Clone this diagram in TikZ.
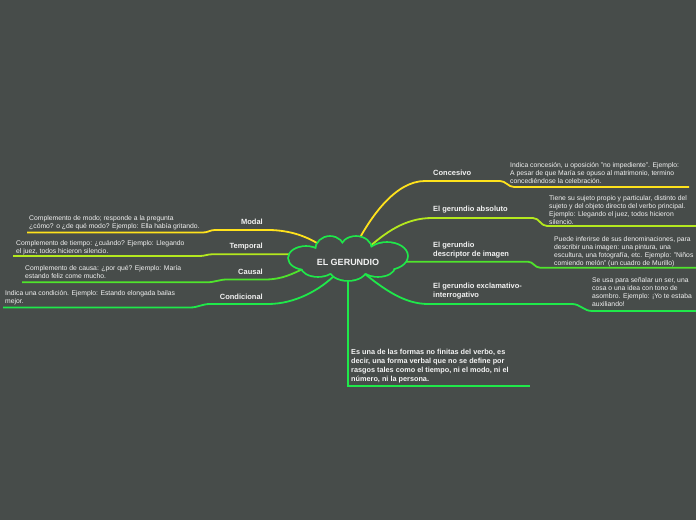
\documentclass[tikz,border=0pt]{standalone}
\usepackage{fontspec}
\setmainfont{Liberation Sans}

\definecolor{bgcol}{HTML}{474C4A}
\definecolor{cyel}{HTML}{FFE21C}
\definecolor{clime}{HTML}{B4E81E}
\definecolor{cgrn}{HTML}{4FE42C}
\definecolor{cbri}{HTML}{1FE84A}
\definecolor{txtcol}{HTML}{F2F2F2}

\pgfdeclarelayer{back}
\pgfdeclarelayer{puffs}
\pgfsetlayers{back,puffs,main}

\begin{document}
\begin{tikzpicture}[x=1pt,y=1pt,
    branch/.style={line width=1.8pt},
    lbl/.style={inner sep=0,text=txtcol,align=left,
        font=\fontsize{7.5}{9}\selectfont\bfseries},
    desc/.style={inner sep=0,anchor=north west,text=txtcol,align=left,
        font=\fontsize{6.8}{8}\selectfont}]

\useasboundingbox (0,0) rectangle (696,520);

% Central idea
\node[minimum width=100pt,minimum height=30pt,inner sep=0,text=txtcol,
    font=\fontsize{9}{10}\selectfont\bfseries]
    (root) at (348,258) {EL GERUNDIO};

% Cloud outline: green ellipses, then filled over
\def\puffs{306/262/17/11, 330/270/14/13, 356/271/15/12, 387/264/20/13,
    378/253/16/9, 348/251/18/11, 318/253/16/9, 348/260/50/14}
\begin{pgfonlayer}{puffs}
\foreach \cx/\cy/\rx/\ry in \puffs
    \draw[cbri,line width=3.6pt] (\cx,\cy) ellipse[x radius=\rx,y radius=\ry];
\foreach \cx/\cy/\rx/\ry in \puffs
    \fill[bgcol] (\cx,\cy) ellipse[x radius=\rx,y radius=\ry];
\end{pgfonlayer}

% Left labels
\node[lbl,anchor=east] (modal) at (263,298) {Modal};
\node[lbl,anchor=east] (temporal) at (263,273) {Temporal};
\node[lbl,anchor=east] (causal) at (263,248) {Causal};
\node[lbl,anchor=east] (condicional) at (263,223) {Condicional};

% Left descriptions
\node[desc] (modal-d) at (29,305)
    {Complemento de modo; responde a la pregunta\\
     ¿cómo? o ¿de qué modo? Ejemplo: Ella había gritando.};
\node[desc] (temporal-d) at (16,280)
    {Complemento de tiempo: ¿cuándo? Ejemplo: Llegando\\
     el juez, todos hicieron silencio.};
\node[desc] (causal-d) at (25,255)
    {Complemento de causa: ¿por qué? Ejemplo: María\\
     estando feliz come mucho.};
\node[desc] (condicional-d) at (5,230)
    {Indica una condición. Ejemplo: Estando elongada bailas\\
     mejor.};

% Right labels
\node[lbl,anchor=west] (concesivo) at (433,347) {Concesivo};
\node[lbl,anchor=west] (absoluto) at (433,310) {El gerundio absoluto};
\node[lbl,anchor=west] (imagen) at (433,269.5)
    {El gerundio\\descriptor de imagen};
\node[lbl,anchor=west] (exclamativo) at (433,228.5)
    {El gerundio exclamativo-\\interrogativo};

% Right descriptions
\node[desc] (concesivo-d) at (510,358)
    {Indica concesión, u oposición "no impediente". Ejemplo:\\
     A pesar de que María se opuso al matrimonio, termino\\
     concediéndose la celebración.};
\node[desc] (absoluto-d) at (549,325)
    {Tiene su sujeto propio y particular, distinto del\\
     sujeto y del objeto directo del verbo principal.\\
     Ejemplo: Llegando el juez, todos hicieron\\
     silencio.};
\node[desc] (imagen-d) at (554,284)
    {Puede inferirse de sus denominaciones, para\\
     describir una imagen: una pintura, una\\
     escultura, una fotografía, etc. Ejemplo: "Niños\\
     comiendo melón" (un cuadro de Murillo)};
\node[desc] (exclamativo-d) at (592,243)
    {Se usa para señalar un ser, una\\
     cosa o una idea con tono de\\
     asombro. Ejemplo: ¡Yo te estaba\\
     auxiliando!};

% Definition
\node[desc,font=\fontsize{7.3}{9}\selectfont\bfseries] (def) at (351,171)
    {Es una de las formas no finitas del verbo, es\\
     decir, una forma verbal que no se define por\\
     rasgos tales como el tiempo, ni el modo, ni el\\
     número, ni la persona.};

% Branch ends
\coordinate (modal-e) at (27,287.5);
\coordinate (temporal-e) at (13,264);
\coordinate (causal-e) at (22,237.7);
\coordinate (condicional-e) at (3,212.5);
\coordinate (concesivo-e) at (689,333);
\coordinate (absoluto-e) at (696,294);
\coordinate (imagen-e) at (696,252.3);
\coordinate (exclamativo-e) at (696,209);
\coordinate (def-e) at (530,134);

\begin{pgfonlayer}{back}
% Background
\fill[bgcol] (0,0) rectangle (696,520);

% Left branches
\draw[branch,cyel] (root.center) -- (317,277)
    .. controls (305,284) and (290,289.5) .. (270,290)
    -- (215,290) to[out=180,in=0] (203,287.5) -- (modal-e);
\draw[branch,clime] (root.center) -- (300,265.7) -- (212,265.7)
    to[out=180,in=0] (200,264) -- (temporal-e);
\draw[branch,cgrn] (root.center) -- (305,252)
    .. controls (292,246) and (282,240.5) .. (265,240.5)
    -- (227,240.5) to[out=180,in=0] (207,237.7) -- (causal-e);
\draw[branch,cbri] (root.center) -- (336,246)
    .. controls (320,230) and (295,216) .. (268,216)
    -- (210,216) to[out=180,in=0] (190,212.5) -- (condicional-e);

% Right branches
\draw[branch,cyel] (root.center) -- (356,275)
    .. controls (370,302) and (395,339) .. (425,339)
    -- (500,339) to[out=0,in=180] (514,333) -- (concesivo-e);
\draw[branch,clime] (root.center) -- (368,272)
    .. controls (385,287) and (405,302) .. (432,302)
    -- (533,302) to[out=0,in=180] (547,294) -- (absoluto-e);
\draw[branch,cgrn] (root.center) -- (400,258.3) -- (528,258.3)
    to[out=0,in=180] (540,252.3) -- (imagen-e);
\draw[branch,cbri] (root.center) -- (365,246)
    .. controls (385,230) and (405,216) .. (428,216)
    -- (572,216) to[out=0,in=180] (592,209) -- (exclamativo-e);

% Definition branch
\draw[branch,cbri] (root.center) -- (348,134) -- (def-e);
\end{pgfonlayer}

\end{tikzpicture}
\end{document}
